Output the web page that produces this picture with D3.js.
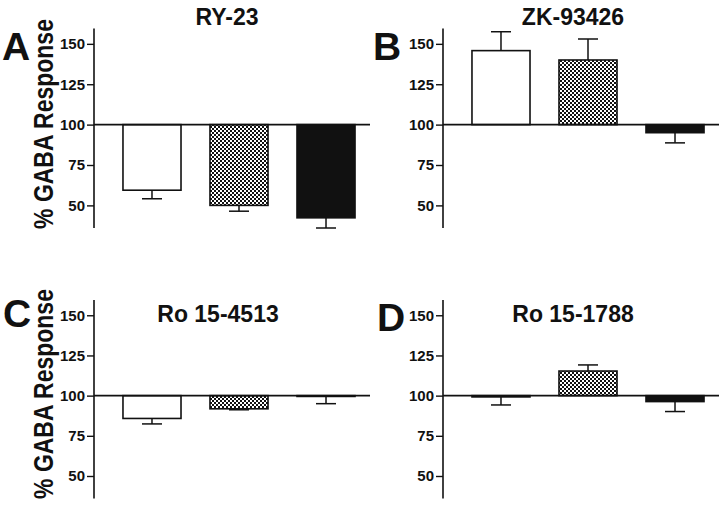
<!DOCTYPE html>
<html>
<head>
<meta charset="utf-8">
<script src="https://cdn.jsdelivr.net/npm/d3@7"></script>
<style>
	body { margin: 0; background: #fff; }
	svg text { font-family: "Liberation Sans", Arial, sans-serif; font-weight: bold; fill: #111; }
</style>
</head>
<body>
<div class="c-svg"></div>
<script>
//DATA
//-------------------------------------------------------------------------
const groups = ["control", "checker", "black"];
const tickValues = [50, 75, 100, 125, 150];
const titles = ["RY-23", "ZK-93426", "Ro 15-4513", "Ro 15-1788"];
const letters = ["A", "B", "C", "D"];

const ry23 = [59.4, 50, 42.3];
const ry23Err = [5.3, 3.6, 6.3];
const zk93426 = [145.8, 140, 95];
const zk93426Err = [11.7, 13, 6.3];
const ro154513 = [85.8, 91.8, 99.5];
const ro154513Err = [3.4, 0.6, 4.5];
const ro151788 = [99.2, 115.3, 96.3];
const ro151788Err = [5, 3.8, 6.2];

const means = [ry23, zk93426, ro154513, ro151788];
const errs = [ry23Err, zk93426Err, ro154513Err, ro151788Err];

//LAYOUT
//-------------------------------------------------------------------------
const opts = { width: 720, height: 506 };

// one entry per panel: axis x, vertical range, where title sits
const panels = [
	{ ax: 94, top: 28.5, bottom: 228, titleX: 227, titleY: 25, letterX: 2, letterY: 60, labelY: 124 },
	{ ax: 443, top: 28.5, bottom: 228, titleX: 573, titleY: 25, letterX: 373, letterY: 60, labelY: null },
	{ ax: 94, top: 300, bottom: 498.5, titleX: 218, titleY: 322, letterX: 3, letterY: 327, labelY: 394 },
	{ ax: 443, top: 300, bottom: 498.5, titleX: 573, titleY: 322, letterX: 377, letterY: 331, labelY: null }
];

const svg = d3.select(".c-svg")
	.append("svg")
	.attr("width", opts.width)
	.attr("height", opts.height);

//checker pattern for the middle bars
const defs = svg.append("defs");
const pat = defs.append("pattern")
	.attr("id", "checker")
	.attr("patternUnits", "userSpaceOnUse")
	.attr("width", 4)
	.attr("height", 4);
pat.append("rect").attr("width", 4).attr("height", 4).attr("fill", "#fff");
pat.append("rect").attr("width", 2).attr("height", 2).attr("fill", "#111");
pat.append("rect").attr("x", 2).attr("y", 2).attr("width", 2).attr("height", 2).attr("fill", "#111");

const fills = { control: "#fff", checker: "url(#checker)", black: "#111" };

panels.forEach((p, i) => {

	const y = d3.scaleLinear()
		.domain([36, 159.5])
		.range([p.bottom, p.top]);

	const x = d3.scaleBand()
		.domain(groups)
		.range([p.ax, p.ax + 290])
		.paddingInner(0.333)
		.paddingOuter(0.333);

	const g = svg.append("g").attr("class", "panel");

	//y axis
	const axis = d3.axisLeft(y)
		.tickValues(tickValues)
		.tickSize(7)
		.tickPadding(2)
		.tickFormat(d3.format("d"));

	const ag = g.append("g")
		.attr("transform", `translate(${p.ax},0)`)
		.call(axis);
	ag.select(".domain")
		.attr("d", `M0,${p.top}V${p.bottom}`)
		.attr("stroke", "#111")
		.attr("stroke-width", 1.6);
	ag.selectAll(".tick line").attr("stroke", "#111").attr("stroke-width", 1.4);
	ag.selectAll(".tick text")
		.style("font-size", "15px")
		.style("font-family", "'Liberation Sans', Arial, sans-serif")
		.style("font-weight", "bold")
		.attr("fill", "#111");

	//bars
	const data = groups.map((k, j) => ({ key: k, v: means[i][j], e: errs[i][j] }));

	g.selectAll(".bar")
		.data(data)
		.join("rect")
		.attr("class", "bar")
		.attr("x", d => x(d.key))
		.attr("width", x.bandwidth())
		.attr("y", d => Math.min(y(d.v), y(100)))
		.attr("height", d => Math.max(Math.abs(y(d.v) - y(100)), 0.5))
		.attr("fill", d => fills[d.key])
		.attr("stroke", "#111")
		.attr("stroke-width", 1.6);

	//error bars, one sided
	const errEnd = d => d.v >= 100 ? d.v + d.e : d.v - d.e;
	g.selectAll(".err")
		.data(data)
		.join("line")
		.attr("class", "err")
		.attr("x1", d => x(d.key) + x.bandwidth() / 2)
		.attr("x2", d => x(d.key) + x.bandwidth() / 2)
		.attr("y1", d => y(d.v))
		.attr("y2", d => y(errEnd(d)))
		.attr("stroke", "#111")
		.attr("stroke-width", 1.5);
	g.selectAll(".cap")
		.data(data)
		.join("line")
		.attr("class", "cap")
		.attr("x1", d => x(d.key) + x.bandwidth() / 2 - 10)
		.attr("x2", d => x(d.key) + x.bandwidth() / 2 + 10)
		.attr("y1", d => y(errEnd(d)))
		.attr("y2", d => y(errEnd(d)))
		.attr("stroke", "#111")
		.attr("stroke-width", 1.5);

	//baseline at 100
	g.append("line")
		.attr("x1", p.ax)
		.attr("x2", Math.min(p.ax + 276, opts.width))
		.attr("y1", y(100))
		.attr("y2", y(100))
		.attr("stroke", "#111")
		.attr("stroke-width", 1.6);

	//title and panel letter
	g.append("text")
		.attr("x", p.titleX)
		.attr("y", p.titleY)
		.attr("text-anchor", "middle")
		.style("font-size", "23px")
		.text(titles[i]);

	g.append("text")
		.attr("x", p.letterX)
		.attr("y", p.letterY)
		.style("font-size", "39px")
		.text(letters[i]);

	//y label, squeezed to fit the axis height
	if (p.labelY !== null) {
		const lab = g.append("text")
			.attr("text-anchor", "middle")
			.style("font-size", "27px")
			.text("% GABA Response");
		const sx = 210 / lab.node().getComputedTextLength();
		lab.attr("transform", `translate(53,${p.labelY}) rotate(-90) scale(${sx},1)`);
	}
});
</script>
</body>
</html>
